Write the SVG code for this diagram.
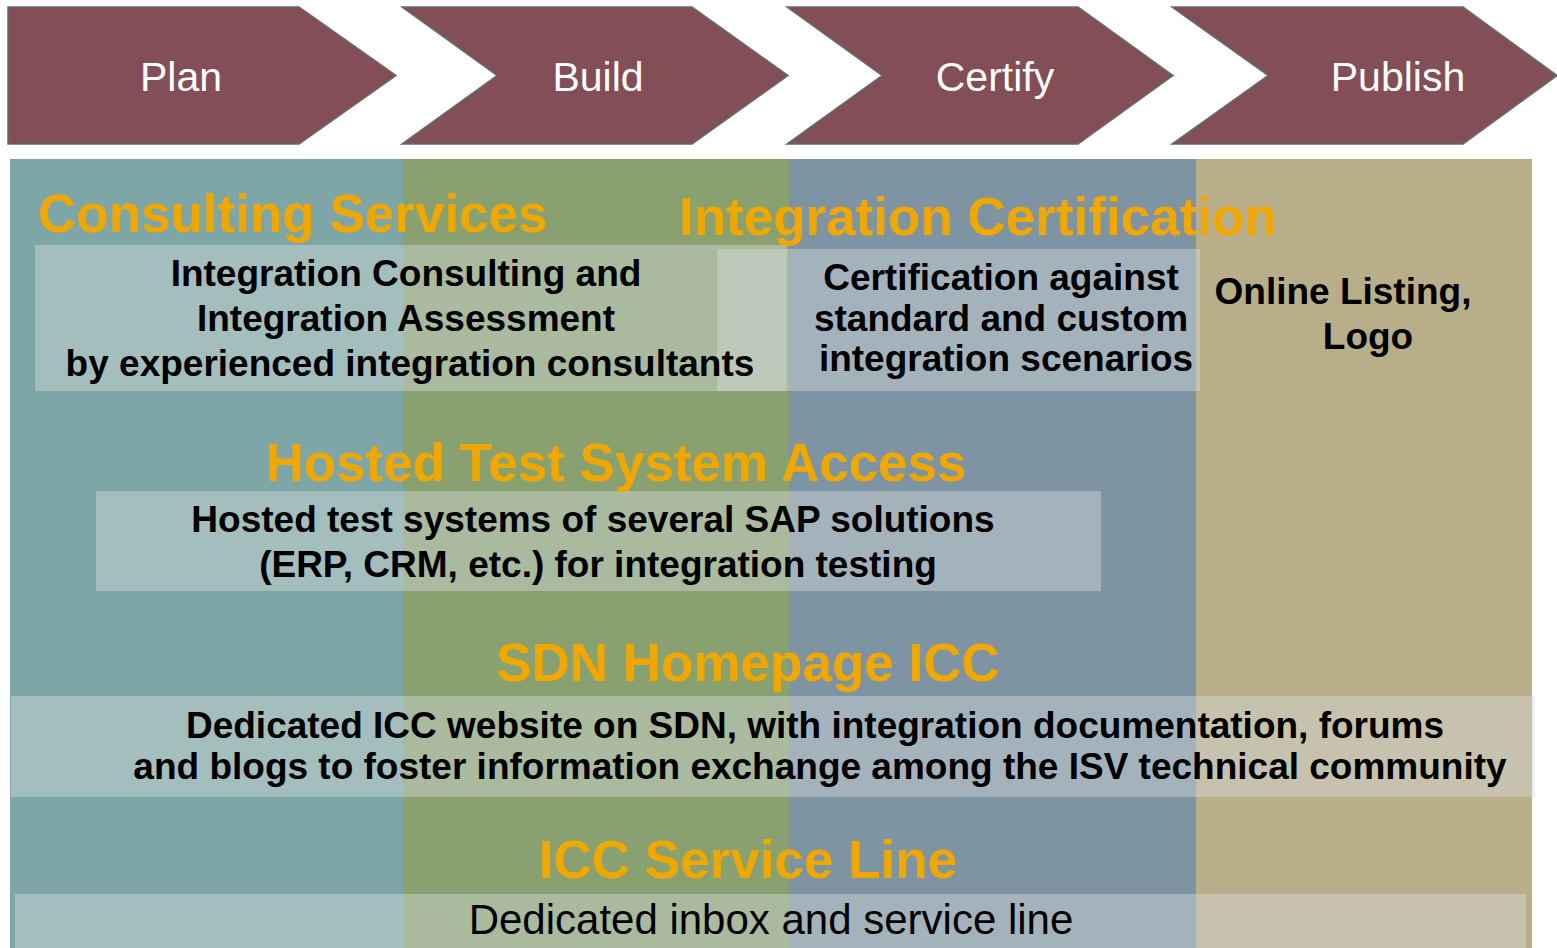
<svg xmlns="http://www.w3.org/2000/svg" width="1557" height="948" viewBox="0 0 1557 948">
<style>
.chev{fill:#844E56;stroke:#5E6E6A;stroke-width:1.5}
.chevt{font-family:"Liberation Sans",Arial,sans-serif;font-size:41px;fill:#ffffff;text-anchor:middle}
.ttl{font-family:"Liberation Sans",Arial,sans-serif;font-size:53px;font-weight:bold;fill:#F0A800}
.body{font-family:"Liberation Sans",Arial,sans-serif;font-size:37px;font-weight:bold;fill:#000000;text-anchor:middle}
.reg{font-family:"Liberation Sans",Arial,sans-serif;font-size:42px;fill:#000000;text-anchor:middle}
.box{fill:#D8DEDE;fill-opacity:0.42}
</style>
<rect width="1557" height="948" fill="#ffffff"/>
<g id="columns">
<rect x="10" y="159" width="393" height="789" fill="#7FA6A6"/>
<rect x="403" y="159" width="386" height="789" fill="#89A070"/>
<rect x="789" y="159" width="407" height="789" fill="#7E94A2"/>
<rect x="1196" y="159" width="336" height="789" fill="#B8AE8A"/>
</g>
<g id="phase-plan">
<polygon class="chev" points="8,7 299,7 396,75.5 299,144 8,144"/>
<text class="chevt" x="181" y="91">Plan</text>
</g>
<g id="phase-build">
<polygon class="chev" points="402,7 692,7 788,75.5 692,144 402,144 497,75.5"/>
<text class="chevt" x="598" y="91">Build</text>
</g>
<g id="phase-certify">
<polygon class="chev" points="787,7 1078,7 1173,75.5 1078,144 787,144 882,75.5"/>
<text class="chevt" x="995" y="91">Certify</text>
</g>
<g id="phase-publish">
<polygon class="chev" points="1172,7 1463,7 1557,75.5 1463,144 1172,144 1268,75.5"/>
<text class="chevt" x="1398" y="91">Publish</text>
</g>
<g id="integration-certification">
<rect class="box" x="717" y="249" width="483" height="142"/>
<text class="body" x="1001" y="290">Certification against</text>
<text class="body" x="1001" y="331">standard and custom</text>
<text class="body" x="1006" y="371">integration scenarios</text>
</g>
<g id="consulting-services">
<rect class="box" x="35" y="245" width="752" height="146"/>
<text class="body" x="406" y="286">Integration Consulting and</text>
<text class="body" x="406" y="331">Integration Assessment</text>
<text class="body" x="410" y="376">by experienced integration consultants</text>
</g>
<g id="online-listing">
<text class="body" x="1343" y="304">Online Listing,</text>
<text class="body" x="1368" y="349">Logo</text>
</g>
<g id="hosted-test-system">
<rect class="box" x="96" y="491" width="1005" height="100"/>
<text class="body" x="593" y="532">Hosted test systems of several SAP solutions</text>
<text class="body" x="598" y="577">(ERP, CRM, etc.) for integration testing</text>
</g>
<g id="sdn-homepage">
<rect class="box" x="11" y="696" width="1524" height="101"/>
<text class="body" x="815" y="738">Dedicated ICC website on SDN, with integration documentation, forums</text>
<text class="body" x="820" y="779">and blogs to foster information exchange among the ISV technical community</text>
</g>
<g id="icc-service-line">
<rect class="box" x="15" y="894" width="1511" height="60"/>
<text class="reg" x="771" y="934">Dedicated inbox and service line</text>
</g>
<g id="titles">
<text class="ttl" x="38" y="232">Consulting Services</text>
<text class="ttl" x="679" y="235">Integration Certification</text>
<text class="ttl" x="616" y="481" text-anchor="middle" font-size="53.5">Hosted Test System Access</text>
<text class="ttl" x="748" y="681" text-anchor="middle">SDN Homepage ICC</text>
<text class="ttl" x="748" y="878" text-anchor="middle">ICC Service Line</text>
</g>
</svg>
